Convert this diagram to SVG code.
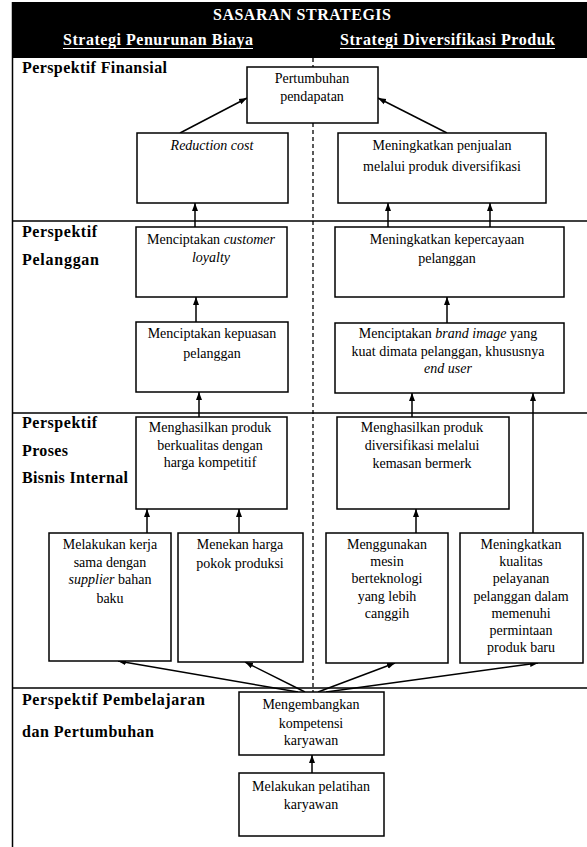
<svg xmlns="http://www.w3.org/2000/svg" width="587" height="847" viewBox="0 0 587 847">
<style>
.bx{fill:#fff;stroke:#000;stroke-width:1.5}
.t{font-family:"Liberation Serif","Times New Roman",serif;font-size:14px;fill:#000;text-anchor:middle}
.i{font-style:italic}
.lb{font-family:"Liberation Serif","Times New Roman",serif;font-size:16px;font-weight:bold;fill:#000}
.hd{font-family:"Liberation Serif","Times New Roman",serif;font-weight:bold;fill:#fff}
.ln{stroke:#000;stroke-width:1.5;fill:none}
.ar{stroke:#000;stroke-width:1.5;fill:none;marker-end:url(#ah)}
.ds{stroke:#000;stroke-width:1.3;stroke-dasharray:4 3;fill:none}
</style>
<defs>
<marker id="ah" markerWidth="9" markerHeight="8" refX="8" refY="4" orient="auto" markerUnits="userSpaceOnUse"><path d="M0,1 L8,4 L0,7 z" fill="#000"/></marker>
</defs>
<rect width="587" height="847" fill="#fff"/>
<g id="header">
<rect x="12" y="2" width="575" height="56" fill="#000"/>
<text class="hd" x="213" y="20" font-size="16" textLength="178" lengthAdjust="spacing">SASARAN STRATEGIS</text>
<text class="hd" x="63" y="45" font-size="16" textLength="190" lengthAdjust="spacing">Strategi Penurunan Biaya</text>
<line x1="63" y1="48.5" x2="253" y2="48.5" stroke="#fff" stroke-width="1"/>
<text class="hd" x="340" y="45" font-size="16" textLength="215" lengthAdjust="spacing">Strategi Diversifikasi Produk</text>
<line x1="340" y1="48.5" x2="555" y2="48.5" stroke="#fff" stroke-width="1"/>
</g>
<g id="frame">
<line class="ln" x1="12.5" y1="2" x2="12.5" y2="847"/>
<line class="ln" x1="12" y1="221" x2="587" y2="221"/>
<line class="ln" x1="12" y1="413" x2="587" y2="413"/>
<line class="ln" x1="12" y1="688" x2="587" y2="688"/>
<line class="ds" x1="313" y1="58" x2="313" y2="67"/>
<line class="ds" x1="313" y1="123" x2="313" y2="692"/>
</g>
<g id="labels">
<text class="lb" x="22" y="73" textLength="145" lengthAdjust="spacing">Perspektif Finansial</text>
<text class="lb" x="22" y="237" textLength="75" lengthAdjust="spacing">Perspektif</text>
<text class="lb" x="22" y="265" textLength="77" lengthAdjust="spacing">Pelanggan</text>
<text class="lb" x="22" y="428" textLength="75" lengthAdjust="spacing">Perspektif</text>
<text class="lb" x="22" y="456" textLength="46" lengthAdjust="spacing">Proses</text>
<text class="lb" x="22" y="483" textLength="106" lengthAdjust="spacing">Bisnis Internal</text>
<text class="lb" x="22" y="705" textLength="183" lengthAdjust="spacing">Perspektif Pembelajaran</text>
<text class="lb" x="22" y="737" textLength="132" lengthAdjust="spacing">dan Pertumbuhan</text>
</g>
<g id="connectors">
<line class="ar" x1="180" y1="133" x2="247" y2="98"/>
<line class="ar" x1="447" y1="133" x2="378" y2="98"/>
<line class="ar" x1="195" y1="227" x2="195" y2="203"/>
<line class="ar" x1="388" y1="227" x2="388" y2="203"/>
<line class="ar" x1="490" y1="227" x2="490" y2="203"/>
<line class="ar" x1="196" y1="322" x2="196" y2="297"/>
<line class="ar" x1="447" y1="323" x2="447" y2="297"/>
<line class="ar" x1="199" y1="417" x2="199" y2="392"/>
<line class="ar" x1="412" y1="417" x2="412" y2="393"/>
<line class="ar" x1="533" y1="533" x2="533" y2="393"/>
<line class="ar" x1="147" y1="533" x2="147" y2="509"/>
<line class="ar" x1="239" y1="533" x2="239" y2="509"/>
<line class="ar" x1="416" y1="533" x2="416" y2="509"/>
<line class="ar" x1="298" y1="692" x2="118" y2="661"/>
<line class="ar" x1="305" y1="692" x2="245" y2="662"/>
<line class="ar" x1="318" y1="692" x2="395" y2="663"/>
<line class="ar" x1="326" y1="692" x2="538" y2="663"/>
<line class="ar" x1="312" y1="773" x2="312" y2="755"/>
</g>
<g id="n-pertumbuhan">
<rect class="bx" x="247" y="67" width="131" height="56"/>
<text class="t" x="312" y="83">Pertumbuhan</text>
<text class="t" x="312" y="101">pendapatan</text>
</g>
<g id="n-reduction">
<rect class="bx" x="137" y="133" width="151" height="70"/>
<text class="t i" x="212" y="150">Reduction cost</text>
</g>
<g id="n-penjualan">
<rect class="bx" x="338" y="133" width="208" height="70"/>
<text class="t" x="442" y="150">Meningkatkan penjualan</text>
<text class="t" x="442" y="171">melalui produk diversifikasi</text>
</g>
<g id="n-loyalty">
<rect class="bx" x="136" y="227" width="151" height="70"/>
<text class="t" x="211" y="244">Menciptakan <tspan class="i">customer</tspan></text>
<text class="t i" x="211" y="262">loyalty</text>
</g>
<g id="n-kepuasan">
<rect class="bx" x="136" y="322" width="152" height="70"/>
<text class="t" x="212" y="338">Menciptakan kepuasan</text>
<text class="t" x="212" y="358">pelanggan</text>
</g>
<g id="n-kepercayaan">
<rect class="bx" x="335" y="227" width="229" height="70"/>
<text class="t" x="447" y="244">Meningkatkan kepercayaan</text>
<text class="t" x="447" y="263">pelanggan</text>
</g>
<g id="n-brand">
<rect class="bx" x="335" y="323" width="229" height="70"/>
<text class="t" x="448" y="338">Menciptakan <tspan class="i">brand image</tspan> yang</text>
<text class="t" x="448" y="356">kuat dimata pelanggan, khususnya</text>
<text class="t i" x="448" y="373">end user</text>
</g>
<g id="n-berkualitas">
<rect class="bx" x="136" y="417" width="151" height="92"/>
<text class="t" x="210" y="432">Menghasilkan produk</text>
<text class="t" x="210" y="450">berkualitas dengan</text>
<text class="t" x="210" y="467">harga kompetitif</text>
</g>
<g id="n-diversifikasi">
<rect class="bx" x="337" y="417" width="172" height="92"/>
<text class="t" x="422" y="432">Menghasilkan produk</text>
<text class="t" x="422" y="450">diversifikasi melalui</text>
<text class="t" x="422" y="468">kemasan bermerk</text>
</g>
<g id="n-supplier">
<rect class="bx" x="49" y="533" width="122" height="128"/>
<text class="t" x="110" y="549">Melakukan kerja</text>
<text class="t" x="110" y="567">sama dengan</text>
<text class="t" x="110" y="584"><tspan class="i">supplier</tspan> bahan</text>
<text class="t" x="110" y="603">baku</text>
</g>
<g id="n-menekan">
<rect class="bx" x="178" y="533" width="125" height="129"/>
<text class="t" x="240" y="549">Menekan harga</text>
<text class="t" x="240" y="568">pokok produksi</text>
</g>
<g id="n-mesin">
<rect class="bx" x="326" y="533" width="122" height="130"/>
<text class="t" x="387" y="549">Menggunakan</text>
<text class="t" x="387" y="566">mesin</text>
<text class="t" x="387" y="583">berteknologi</text>
<text class="t" x="387" y="601">yang lebih</text>
<text class="t" x="387" y="618">canggih</text>
</g>
<g id="n-kualitas">
<rect class="bx" x="460" y="533" width="123" height="130"/>
<text class="t" x="521" y="549">Meningkatkan</text>
<text class="t" x="521" y="566">kualitas</text>
<text class="t" x="521" y="583">pelayanan</text>
<text class="t" x="521" y="601">pelanggan dalam</text>
<text class="t" x="521" y="618">memenuhi</text>
<text class="t" x="521" y="635">permintaan</text>
<text class="t" x="521" y="652">produk baru</text>
</g>
<g id="n-kompetensi">
<rect class="bx" x="239" y="692" width="145" height="63"/>
<text class="t" x="311" y="709">Mengembangkan</text>
<text class="t" x="311" y="728">kompetensi</text>
<text class="t" x="311" y="745">karyawan</text>
</g>
<g id="n-pelatihan">
<rect class="bx" x="239" y="773" width="145" height="63"/>
<text class="t" x="311" y="791">Melakukan pelatihan</text>
<text class="t" x="311" y="809">karyawan</text>
</g>
</svg>
